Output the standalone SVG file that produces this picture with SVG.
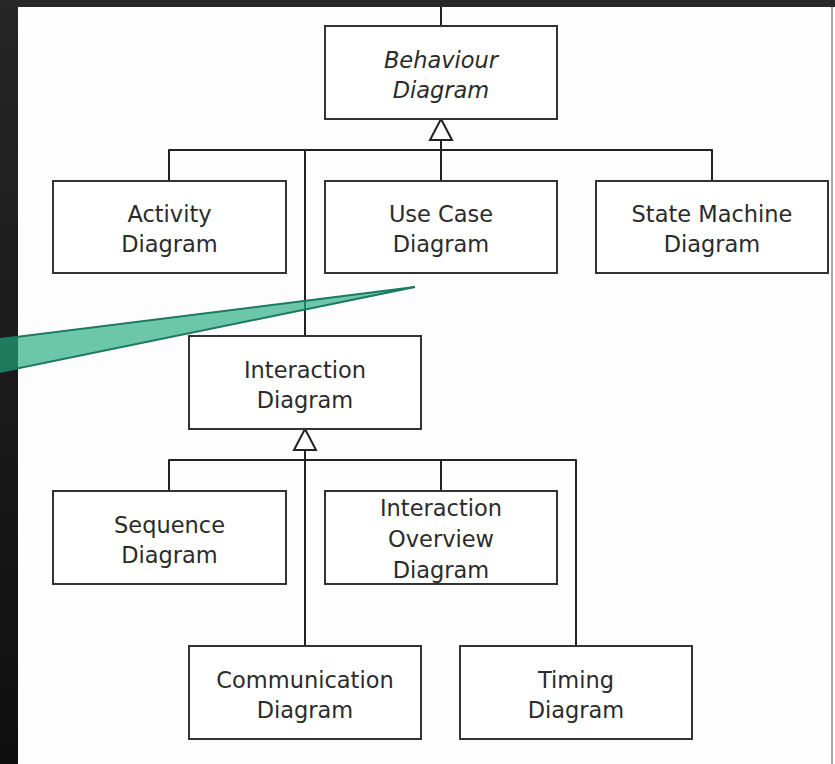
<svg xmlns="http://www.w3.org/2000/svg" width="835" height="764" viewBox="0 0 835 764">
  <defs>
    <linearGradient id="strip" x1="0" y1="0" x2="0" y2="1">
      <stop offset="0" stop-color="#262626"/>
      <stop offset="1" stop-color="#0f0f0f"/>
    </linearGradient>
  </defs>
  <style>
    .box{fill:#ffffff;stroke:#333333;stroke-width:2}
    .lbl{font-family:"DejaVu Sans",sans-serif;font-size:22.5px;fill:#2b2b2b;text-anchor:middle}
    .it{font-style:italic}
    .con{fill:none;stroke:#222222;stroke-width:2;stroke-linejoin:round}
    .tri{fill:#ffffff;stroke:#222222;stroke-width:2;stroke-linejoin:miter}
  </style>
  <rect x="0" y="0" width="835" height="764" fill="#fdfdfd"/>
  <line x1="832" y1="7" x2="832" y2="764" stroke="#8a8a8a" stroke-width="1.5"/>

  <g id="connectors">
    <path class="con" d="M441 7 V26"/>
    <path class="con" d="M441 140 V181"/>
    <path class="con" d="M169 181 V150 H712 V181"/>
    <path class="con" d="M305 150 V336"/>
    <polygon class="tri" points="441,119 430,140 452,140"/>
    <path class="con" d="M305 450 V646"/>
    <path class="con" d="M169 491 V460 H576 V646"/>
    <path class="con" d="M441 460 V491"/>
    <polygon class="tri" points="305,429 294,450 316,450"/>
  </g>

  <g id="behaviour">
    <rect class="box" x="325" y="26" width="232" height="93"/>
    <text class="lbl it" x="441" y="67.5">Behaviour</text>
    <text class="lbl it" x="441" y="97.5">Diagram</text>
  </g>
  <g id="activity">
    <rect class="box" x="53" y="181" width="233" height="92"/>
    <text class="lbl" x="169.5" y="222">Activity</text>
    <text class="lbl" x="169.5" y="252">Diagram</text>
  </g>
  <g id="usecase">
    <rect class="box" x="325" y="181" width="232" height="92"/>
    <text class="lbl" x="441" y="222">Use Case</text>
    <text class="lbl" x="441" y="252">Diagram</text>
  </g>
  <g id="statemachine">
    <rect class="box" x="596" y="181" width="232" height="92"/>
    <text class="lbl" x="712" y="222">State Machine</text>
    <text class="lbl" x="712" y="252">Diagram</text>
  </g>
  <g id="interaction">
    <rect class="box" x="189" y="336" width="232" height="93"/>
    <text class="lbl" x="305" y="377.5">Interaction</text>
    <text class="lbl" x="305" y="407.5">Diagram</text>
  </g>
  <g id="sequence">
    <rect class="box" x="53" y="491" width="233" height="93"/>
    <text class="lbl" x="169.5" y="532.5">Sequence</text>
    <text class="lbl" x="169.5" y="562.5">Diagram</text>
  </g>
  <g id="overview">
    <rect class="box" x="325" y="491" width="232" height="93"/>
    <text class="lbl" x="441" y="516">Interaction</text>
    <text class="lbl" x="441" y="547">Overview</text>
    <text class="lbl" x="441" y="578">Diagram</text>
  </g>
  <g id="communication">
    <rect class="box" x="189" y="646" width="232" height="93"/>
    <text class="lbl" x="305" y="687.5">Communication</text>
    <text class="lbl" x="305" y="717.5">Diagram</text>
  </g>
  <g id="timing">
    <rect class="box" x="460" y="646" width="232" height="93"/>
    <text class="lbl" x="576" y="687.5">Timing</text>
    <text class="lbl" x="576" y="717.5">Diagram</text>
  </g>

  <rect x="0" y="0" width="18" height="764" fill="url(#strip)"/>
  <rect x="0" y="0" width="835" height="7" fill="#282828"/>

  <g id="callout">
    <polygon points="-10,340.3 415,287 -10,374" fill="#24aa7e" fill-opacity="0.67" stroke="#1b7a5e" stroke-width="2" stroke-linejoin="miter"/>
  </g>
</svg>
